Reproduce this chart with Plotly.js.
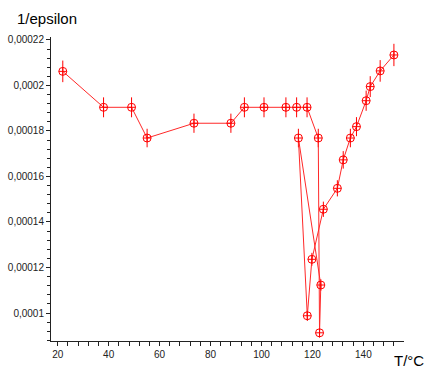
<!DOCTYPE html>
<html>
<head>
<meta charset="utf-8">
<script src="https://cdn.plot.ly/plotly-3.0.1.min.js"></script>
<style>html,body{margin:0;padding:0;background:#fff;}#chart{width:427px;height:372px;}</style>
</head>
<body>
<div id="chart"></div>
<script>
// Temperature (°C), in measurement order
var temperature = [22, 38, 49, 55.1, 73.5, 88, 93.3, 101, 109.6, 113.8, 117.9, 122.3, 122.8, 123.3, 114.5, 118.0, 119.8, 124.3, 129.8, 132.1, 134.9, 137.3, 141.1, 142.7, 146.6, 152.0];
// 1/epsilon values
var invEpsilon = [0.0002062, 0.0001904, 0.0001904, 0.0001769, 0.0001834, 0.0001834, 0.0001904, 0.0001904, 0.0001904, 0.0001904, 0.0001904, 0.0001769, 0.0000913, 0.0001123, 0.0001769, 0.0000988, 0.0001236, 0.0001456, 0.0001548, 0.0001673, 0.0001769, 0.0001819, 0.0001933, 0.0001995, 0.0002064, 0.0002134];
var errorPercent = 2.3;

var trace = {
  x: temperature,
  y: invEpsilon,
  type: 'scatter',
  mode: 'lines+markers',
  line: {color: 'rgb(255,40,40)', width: 1},
  marker: {symbol: 'circle-cross-open', size: 8, color: 'red', line: {color: 'red', width: 1}},
  error_y: {type: 'percent', value: errorPercent, color: 'red', thickness: 1, width: 0},
  hoverinfo: 'none'
};

var axisCol = '#222';
var layout = {
  width: 427, height: 372,
  margin: {l: 51, r: 23, t: 37, b: 31, pad: 0},
  paper_bgcolor: '#fff', plot_bgcolor: '#fff',
  separators: ',.',
  showlegend: false,
  font: {family: '"Liberation Sans", Arial, sans-serif', color: '#111'},
  title: {
    text: '1/epsilon', font: {size: 15, color: '#000'},
    xref: 'container', yref: 'container',
    x: 17/427, xanchor: 'left', y: 1 - 19/372, yanchor: 'middle'
  },
  xaxis: {
    range: [17.37, 155.96],
    showgrid: false, zeroline: false,
    showline: true, linecolor: axisCol, linewidth: 1,
    ticks: 'outside', ticklen: 4, tickcolor: axisCol, tickwidth: 1,
    tick0: 0, dtick: 20,
    minor: {ticks: 'outside', ticklen: 4, dtick: 4, tick0: 0, tickcolor: axisCol, tickwidth: 1, showgrid: false},
    tickfont: {size: 10, color: '#222'}
  },
  yaxis: {
    range: [0.0000877, 0.0002213],
    showgrid: false, zeroline: false,
    showline: true, linecolor: axisCol, linewidth: 1,
    ticks: 'outside', ticklen: 4, tickcolor: axisCol, tickwidth: 1,
    tick0: 0, dtick: 0.00002, tickformat: '.5~f',
    minor: {ticks: 'outside', ticklen: 3, dtick: 0.000004, tick0: 0, tickcolor: axisCol, tickwidth: 1, showgrid: false},
    tickfont: {size: 10, color: '#222'}
  },
  annotations: [{
    text: 'T/°C', showarrow: false,
    xref: 'paper', yref: 'paper',
    x: (425 - 51) / 353, xanchor: 'right',
    y: (341 - 370) / 304, yanchor: 'bottom',
    borderpad: 0,
    font: {size: 15, color: '#000'}
  }]
};

Plotly.newPlot('chart', [trace], layout, {staticPlot: true, displayModeBar: false});
</script>
</body>
</html>
